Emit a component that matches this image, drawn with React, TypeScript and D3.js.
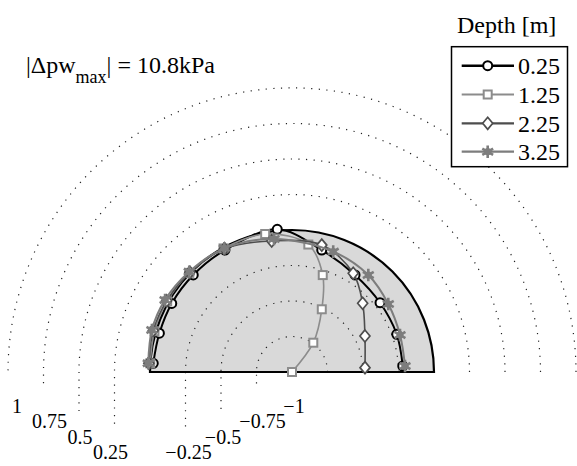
import React from 'react';
import * as d3 from 'd3';

// ---- data ----
const depthLabels = ['0.25', '1.25', '2.25', '3.25'];

// polar angle in degrees (0 = right, 180 = left), normalised Δpw (-1 centre .. 1 outer)
const angles025 = [3.1, 19.8, 38.2, 57.0, 76.3, 95.9, 118.8, 135.5, 150.3, 163.7, 176.4];
const values025 = [-0.219, -0.216, -0.211, -0.185, -0.116, 0.01, -0.02, -0.025, -0.025, -0.027, -0.021];

const angles125 = [45, 54.0, 64.6, 72.4, 82.7, 101.0, 119.0, 136.0, 150.5, 163.5, 176.5];
const values125 = [-1, -0.745, -0.511, -0.284, -0.095, -0.01, -0.005, 0.005, 0.01, 0.01, 0.0];

const angles225 = [3.4, 26.3, 44.2, 58.2, 76.8, 98.8, 118.7, 135.7, 150.4, 163.3, 176.5];
const values225 = [-0.485, -0.427, -0.306, -0.182, -0.082, -0.066, -0.01, 0.005, 0.015, 0.02, 0.01];

const angles325 = [3.0, 18.9, 35.2, 51.8, 71.1, 97.7, 118.7, 135.7, 150.4, 163.3, 176.5];
const values325 = [-0.203, -0.196, -0.17, -0.131, -0.104, -0.055, -0.007, 0.011, 0.028, 0.03, 0.014];

const gridValues = [-0.75, -0.5, -0.25, 0.25, 0.5, 0.75, 1];
const tickValues = [1, 0.75, 0.5, 0.25, -0.25, -0.5, -0.75, -1];
const tickLabels = ['1', '0.75', '0.5', '0.25', '\u22120.25', '\u22120.5', '\u22120.75', '\u22121'];

const titleMain = '|\u0394pw';
const titleSub = 'max';
const titleRest = '| = 10.8kPa';
const legendTitle = 'Depth [m]';

// ---- layout / style ----
const W = 577, H = 466;
const cx = 292, cy = 372;
const rScale = d3.scaleLinear().domain([-1, 1]).range([0, 284]);
const labelDx = [9, 6, 1, -4, 3, 2, 6, 2];
const leaderExt: Record<string, number> = { '1': 0, '0.75': 16, '0.5': 40, '0.25': 56 };
const fontStyle = { fontFamily: '"Liberation Serif", "Times New Roman", Times, "DejaVu Serif", serif' };

const seriesStyle = [
  { color: '#000000', width: 2, marker: 'circle' },
  { color: '#8c8c8c', width: 1.6, marker: 'square' },
  { color: '#4d4d4d', width: 1.6, marker: 'diamond' },
  { color: '#7d7d7d', width: 2, marker: 'asterisk' },
];

const seriesData = [
  [angles025, values025],
  [angles125, values125],
  [angles225, values225],
  [angles325, values325],
];

function toXY(deg: number, v: number): [number, number] {
  const t = (deg * Math.PI) / 180;
  const r = rScale(v);
  return [cx + r * Math.cos(t), cy - r * Math.sin(t)];
}

function Marker({ type, x, y, color }: { type: string; x: number; y: number; color: string }) {
  if (type === 'circle')
    return <circle cx={x} cy={y} r={4.5} fill="#fff" stroke={color} strokeWidth={2} />;
  if (type === 'square')
    return <rect x={x - 4} y={y - 4} width={8} height={8} fill="#fff" stroke={color} strokeWidth={2} />;
  if (type === 'diamond')
    return (
      <path d={`M${x},${y - 6}L${x + 5},${y}L${x},${y + 6}L${x - 5},${y}Z`} fill="#fff" stroke={color} strokeWidth={1.7} />
    );
  const sym = d3.symbol().type(d3.symbolAsterisk).size(110)();
  return (
    <g transform={`translate(${x},${y})`}>
      <circle r={3.6} fill={color} />
      <path d={sym || ''} fill="none" stroke={color} strokeWidth={2.6} />
    </g>
  );
}

export default function App() {
  const line = d3
    .line<[number, number]>()
    .x((d) => d[0])
    .y((d) => d[1])
    .curve(d3.curveCatmullRom.alpha(0.5));

  const gridPath = (v: number) => {
    const R = rScale(v);
    const p = d3.path();
    p.moveTo(cx + R, cy);
    p.arc(cx, cy, R, 0, -Math.PI, true);
    const ext = leaderExt[String(Math.abs(v))] || 0;
    if (ext > 0) p.lineTo(cx - R, cy + ext);
    return p.toString();
  };

  const R0 = rScale(0);
  const zeroArc = d3.path();
  zeroArc.moveTo(cx + R0, cy);
  zeroArc.arc(cx, cy, R0, 0, -Math.PI, true);
  zeroArc.closePath();

  const legX0 = 461.7, legX1 = 514, legMx = 487.7;
  const legRows = [65.7, 94.5, 123.3, 151.7];

  return (
    <svg
      width={W}
      height={H}
      style={{ position: 'absolute', left: 0, top: 0, background: '#fff' }}
    >
      <rect x={0} y={0} width={W} height={H} fill="#fff" />
      {/* grey zero region */}
      <path d={zeroArc.toString()} fill="#d9d9d9" stroke="none" />
      {/* dotted grid */}
      {gridValues.map((v) => (
        <path
          key={v}
          d={gridPath(v)}
          fill="none"
          stroke="#222"
          strokeWidth={1.2}
          strokeDasharray="1.2 6.4"
        />
      ))}
      {/* solid zero circle and baseline */}
      <path d={zeroArc.toString()} fill="none" stroke="#000" strokeWidth={2.2} />

      {/* series */}
      {seriesData.map(([angs, vals], i) => {
        const pts = angs.map((a, j) => toXY(a, vals[j]));
        const st = seriesStyle[i];
        return (
          <g key={i}>
            <path d={line(pts) || ''} fill="none" stroke={st.color} strokeWidth={st.width} />
            {pts.map((p, j) => (
              <Marker key={j} type={st.marker} x={p[0]} y={p[1]} color={st.color} />
            ))}
          </g>
        );
      })}

      {/* radial tick labels */}
      {tickValues.map((v, i) => (
        <text
          key={i}
          x={cx - rScale(v) + labelDx[i]}
          y={cy + 41 + (1 - Math.abs(v)) * 61}
          fontSize={20}
          textAnchor="middle"
          fill="#000"
          style={fontStyle}
        >
          {tickLabels[i]}
        </text>
      ))}

      {/* title annotation */}
      <text x={26} y={73.3} fontSize={24} fill="#000" style={fontStyle}>
        {titleMain}
        <tspan fontSize={18} dy={10}>
          {titleSub}
        </tspan>
        <tspan dy={-10}>{titleRest}</tspan>
      </text>

      {/* legend */}
      <text x={457} y={33} fontSize={24} fill="#000" style={fontStyle}>
        {legendTitle}
      </text>
      <rect x={451.5} y={46.7} width={116} height={120} fill="#fff" stroke="#000" strokeWidth={1.5} />
      {depthLabels.map((lab, i) => {
        const st = seriesStyle[i];
        const y = legRows[i];
        return (
          <g key={lab}>
            <line x1={legX0} x2={legX1} y1={y} y2={y} stroke={st.color} strokeWidth={i === 0 ? 2.6 : 2.2} />
            <Marker type={st.marker} x={legMx} y={y} color={st.color} />
            <text x={518} y={y + 8.3} fontSize={24} fill="#000" style={fontStyle}>
              {lab}
            </text>
          </g>
        );
      })}
    </svg>
  );
}
